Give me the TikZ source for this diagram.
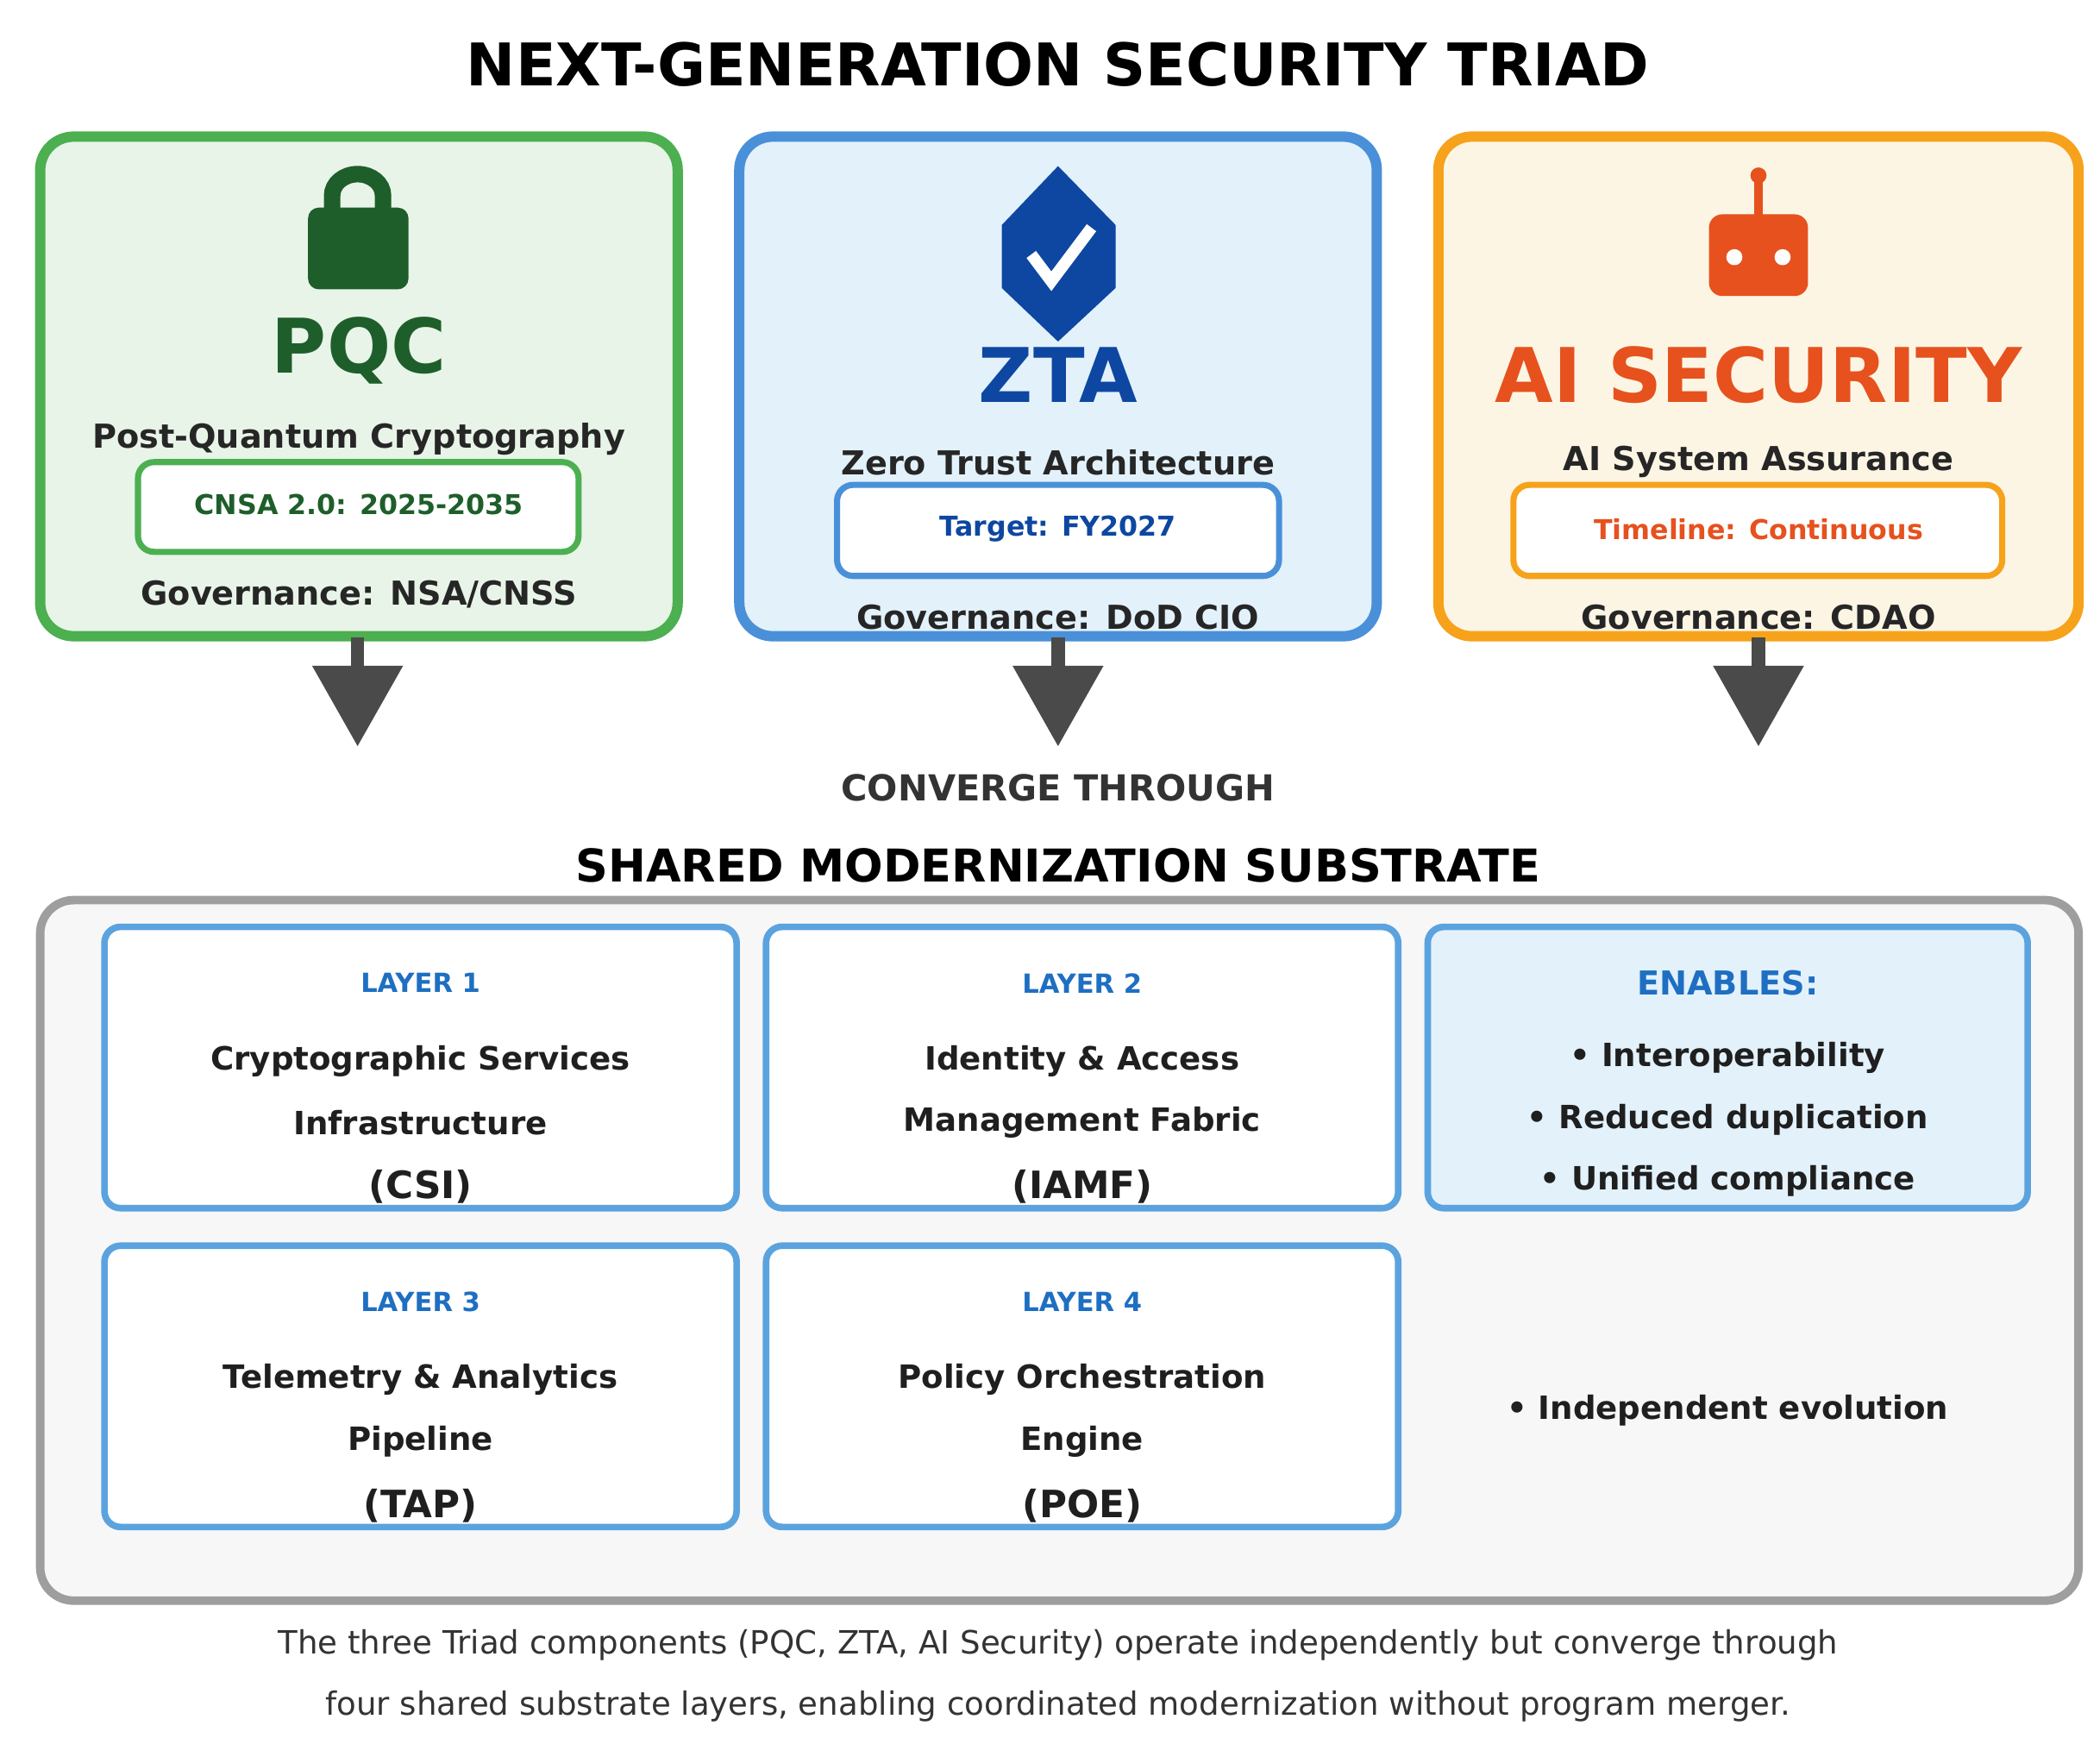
\documentclass[tikz,border=0pt]{standalone}
\usepackage{fontspec}
\setmainfont{DejaVu Sans}
\begin{document}
\begin{tikzpicture}[x=0.01cm,y=-0.01cm,
  card/.style={rounded corners=0.25cm,line width=2.2pt},
  badge/.style={rounded corners=0.12cm,line width=1.3pt,fill=white},
  layer/.style={rounded corners=0.12cm,line width=1.4pt,draw=lblue,fill=white},
  arr/.style={fill=agrey,draw=none},
  t/.style={font=\bfseries\fontsize{7}{8}\selectfont,text=black!85},
  lt/.style={font=\bfseries\fontsize{5.6}{7}\selectfont,text=lbt},
  lx/.style={font=\bfseries\fontsize{6.8}{8}\selectfont,text=black!88}]
\definecolor{gB}{HTML}{4CAF50}\definecolor{gF}{HTML}{E8F4E8}\definecolor{gD}{HTML}{1E5E2A}
\definecolor{bB}{HTML}{4A90D9}\definecolor{bF}{HTML}{E3F1FB}\definecolor{bD}{HTML}{0D47A1}
\definecolor{oB}{HTML}{F7A21B}\definecolor{oF}{HTML}{FDF5E4}\definecolor{oD}{HTML}{E6511E}
\definecolor{agrey}{HTML}{4A4A4A}\definecolor{lblue}{HTML}{5BA3DF}\definecolor{lbt}{HTML}{1E6FC2}
\path[use as bounding box] (0,0) rectangle (1568,1297);
\fill[white] (0,0) rectangle (1568,1297);
\node[font=\bfseries\fontsize{12.5}{14}\selectfont] (title) at (790,48) {NEXT-GENERATION SECURITY TRIAD};
% cards
\draw[card,draw=gB,fill=gF] (30,102) rectangle (506,475);
\draw[card,draw=bB,fill=bF] (552,102) rectangle (1028,475);
\draw[card,draw=oB,fill=oF] (1074,102) rectangle (1552,475);
% lock
\draw[gD,line width=3.5pt] (248,158) -- (248,146) arc[start angle=180,end angle=0,x radius=19,y radius=-16] -- (286,158);
\fill[gD,rounded corners=0.08cm] (230,155) rectangle (305,216);
% hexagon
\fill[bD] (790,124) -- (833,168) -- (833,215) -- (790,255) -- (748,215) -- (748,168) -- cycle;
\draw[white,line width=2.5pt] (770,190) -- (785,210) -- (815,170);
% robot
\draw[oD,line width=2pt] (1313,132) -- (1313,162);
\fill[oD] (1313,131) circle (6);
\fill[oD,rounded corners=0.1cm] (1276,160) rectangle (1350,221);
\fill[white] (1295,192) circle (6) (1331,192) circle (6);
% card texts
\node[font=\bfseries\fontsize{16}{18}\selectfont,text=gD] (pqc) at (268,262) {PQC};
\node[t] (pqcs) at (268,328) {Post-Quantum Cryptography};
\draw[badge,draw=gB] (103,345) rectangle (432,412);
\node[font=\bfseries\fontsize{5.8}{7}\selectfont,text=gD] (pqcb) at (268,377) {CNSA 2.0: 2025-2035};
\node[t] (pqcg) at (268,444) {Governance: NSA/CNSS};
\node[font=\bfseries\fontsize{16}{18}\selectfont,text=bD] (zta) at (790,280) {ZTA};
\node[t] (ztas) at (790,345) {Zero Trust Architecture};
\draw[badge,draw=bB] (625,362) rectangle (955,430);
\node[font=\bfseries\fontsize{5.8}{7}\selectfont,text=bD] (ztab) at (790,395) {Target: FY2027};
\node[t] (ztag) at (790,461) {Governance: DoD CIO};
\node[font=\bfseries\fontsize{16}{18}\selectfont,text=oD] (ai) at (1313,280) {AI SECURITY};
\node[t] (ais) at (1313,345) {AI System Assurance};
\draw[badge,draw=oB] (1130,362) rectangle (1495,430);
\node[font=\bfseries\fontsize{5.8}{7}\selectfont,text=oD] (aib) at (1313,395) {Timeline: Continuous};
\node[t] (aig) at (1313,461) {Governance: CDAO};
% arrows
\foreach \x in {267,790,1313}{
  \fill[agrey] (\x-5,476) rectangle (\x+5,500);
  \fill[arr] (\x-34,497) -- (\x+34,497) -- (\x,557) -- cycle;}
\node[font=\bfseries\fontsize{7.6}{9}\selectfont,text=black!80] (conv) at (790,588) {CONVERGE THROUGH};
\node[font=\bfseries\fontsize{9.6}{11}\selectfont] (shared) at (790,646) {SHARED MODERNIZATION SUBSTRATE};
\draw[rounded corners=0.25cm,line width=1.8pt,draw=black!38,fill=black!3] (30,672) rectangle (1552,1195);
% layers
\draw[layer] (78,692) rectangle (550,902);
\draw[layer] (572,692) rectangle (1044,902);
\draw[layer,fill=bF] (1066,692) rectangle (1514,902);
\draw[layer] (78,930) rectangle (550,1140);
\draw[layer] (572,930) rectangle (1044,1140);
\node[lt] (l1) at (314,734) {LAYER 1};
\node[lx] at (314,792) {Cryptographic Services};
\node[lx] at (314,838) {Infrastructure};
\node[lx,font=\bfseries\fontsize{8}{9}\selectfont] at (314,886) {(CSI)};
\node[lt] (l2) at (808,734) {LAYER 2};
\node[lx] at (808,792) {Identity \& Access};
\node[lx] at (808,838) {Management Fabric};
\node[lx,font=\bfseries\fontsize{8}{9}\selectfont] at (808,886) {(IAMF)};
\node[lt] (l3) at (314,972) {LAYER 3};
\node[lx] at (314,1030) {Telemetry \& Analytics};
\node[lx] at (314,1076) {Pipeline};
\node[lx,font=\bfseries\fontsize{8}{9}\selectfont] at (314,1124) {(TAP)};
\node[lt] (l4) at (808,972) {LAYER 4};
\node[lx] at (808,1030) {Policy Orchestration};
\node[lx] at (808,1076) {Engine};
\node[lx,font=\bfseries\fontsize{8}{9}\selectfont] at (808,1124) {(POE)};
\node[font=\bfseries\fontsize{7}{8}\selectfont,text=lbt] (en) at (1290,734) {ENABLES:};
\node[lx] at (1290,790) {• Interoperability};
\node[lx] at (1290,836) {• Reduced duplication};
\node[lx] at (1290,882) {• Unified compliance};
\node[lx] at (1290,1053) {• Independent evolution};
\node[font=\fontsize{6.8}{8}\selectfont,text=black!80] (c1) at (790,1228) {The three Triad components (PQC, ZTA, AI Security) operate independently but converge through};
\node[font=\fontsize{6.8}{8}\selectfont,text=black!80] (c2) at (790,1274) {four shared substrate layers, enabling coordinated modernization without program merger.};
\end{tikzpicture}
\end{document}
